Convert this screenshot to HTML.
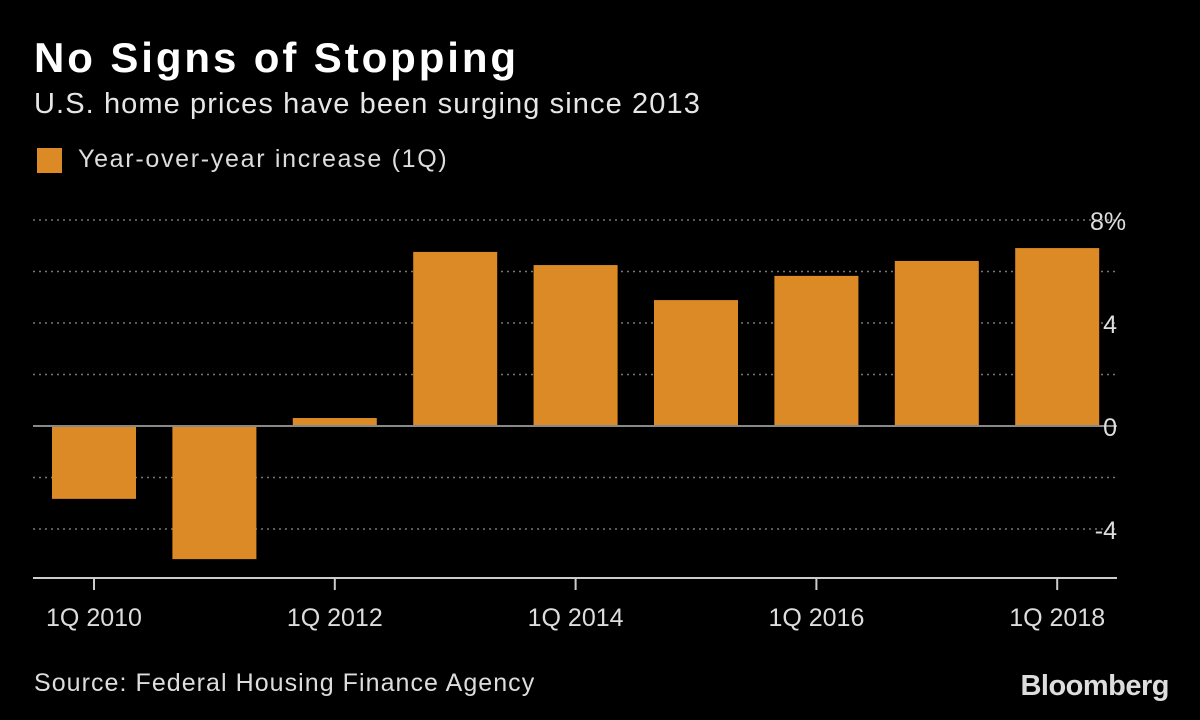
<!DOCTYPE html>
<html><head><meta charset="utf-8"><style>
html,body{margin:0;padding:0;background:#000;}
body{width:1200px;height:720px;overflow:hidden;font-family:"Liberation Sans",sans-serif;color:#fff;position:relative;}
.t{position:absolute;white-space:nowrap;}
</style></head><body>
<div class="t" style="left:34px;top:34px;font-size:42px;font-weight:bold;letter-spacing:2.9px;">No Signs of Stopping</div>
<div class="t" style="left:34px;top:88px;font-size:29px;color:#e6e6e6;letter-spacing:1.1px;">U.S. home prices have been surging since 2013</div>
<div style="position:absolute;left:37px;top:148px;width:25px;height:25px;background:#dc8a25;"></div>
<div class="t" style="left:78px;top:145px;font-size:25px;color:#ddd;letter-spacing:1.7px;">Year-over-year increase (1Q)</div>
<svg id="chart" width="1200" height="720" style="position:absolute;left:0;top:0;"></svg>
<div class="t" style="left:34px;top:669px;font-size:25px;color:#ddd;letter-spacing:1.05px;">Source: Federal Housing Finance Agency</div>
<div class="t" style="right:31px;top:670px;font-size:29px;font-weight:bold;letter-spacing:-0.5px;color:#ddd;">Bloomberg</div>
<script>
const categories=["1Q 2010","1Q 2011","1Q 2012","1Q 2013","1Q 2014","1Q 2015","1Q 2016","1Q 2017","1Q 2018"];
const values=[-2.83,-5.17,0.31,6.76,6.25,4.89,5.83,6.41,6.91];
const yTicks=[8,4,0,-4];
const yTickLabels=["8%","4","0","-4"];
const gridValues=[8,6,4,2,-2,-4];
const xLabelIdx=[0,2,4,6,8];
const NS="http://www.w3.org/2000/svg";
const svg=document.getElementById('chart');
const y=v=>426-v*25.75;
const x=i=>94+i*120.4;
function mk(t,a){const e=document.createElementNS(NS,t);for(const k in a)e.setAttribute(k,a[k]);svg.appendChild(e);return e;}
gridValues.forEach(v=>{
 const l=mk('line',{x1:33,x2:1117,y1:y(v),y2:y(v),stroke:'#777','stroke-width':1.5,'stroke-dasharray':'2,4'});
 
 
});
values.forEach((v,i)=>{
 const r=mk('rect',{x:x(i)-42,width:84,y:Math.min(y(v),y(0)),height:Math.abs(y(v)-y(0)),fill:'#dc8a25'});
 
 
});
const z=mk('line',{x1:33,x2:1117,y1:y(0),y2:y(0),stroke:'#888','stroke-width':2});


const ax=mk('line',{x1:33,x2:1117,y1:578,y2:578,stroke:'#ccc','stroke-width':2});


yTicks.forEach((v,i)=>{
 const t=mk('text',{x:yTickLabels[i].includes('%')?1090:1117,y:y(v)+10,fill:'#ddd','font-size':25,'font-family':'Liberation Sans, sans-serif','text-anchor':yTickLabels[i].includes('%')?'start':'end'});
 t.textContent=yTickLabels[i];
 
 
});
xLabelIdx.forEach(i=>{
 const tk=mk('line',{x1:x(i),x2:x(i),y1:578,y2:590,stroke:'#ccc','stroke-width':2});
 
 
 const t=mk('text',{x:x(i),y:626,fill:'#ddd','font-size':25,'font-family':'Liberation Sans, sans-serif','text-anchor':'middle'});
 t.textContent=categories[i];
 
 
});
</script>
</body></html>
